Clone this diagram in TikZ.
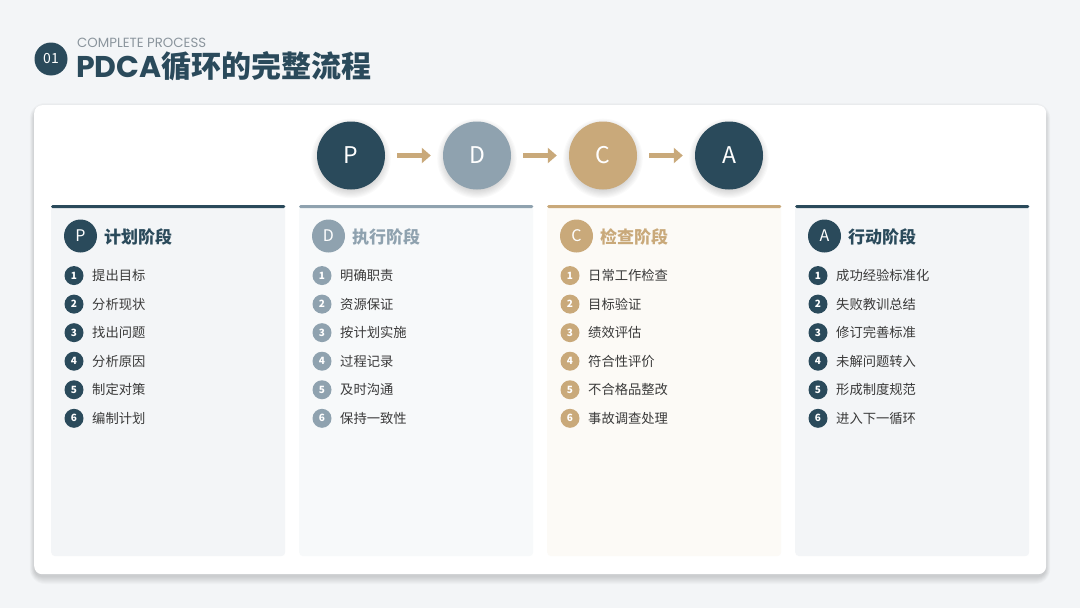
\documentclass[tikz,border=0pt]{standalone}
\usepackage{fontspec}
\setmainfont{Noto Sans CJK SC}
\newfontfamily\lat{Poppins}
\usetikzlibrary{arrows.meta,calc}
\definecolor{navy}{HTML}{2A4A5B}
\definecolor{slate}{HTML}{8FA2AF}
\definecolor{tan}{HTML}{C9A97A}
\definecolor{pagebg}{HTML}{F3F5F7}
\definecolor{cardgray}{HTML}{F3F5F7}
\definecolor{cardblue}{HTML}{F7F9FA}
\definecolor{cardtan}{HTML}{FCFAF6}
\definecolor{itemtext}{HTML}{3A3A3A}
\definecolor{subgray}{HTML}{8B959D}
\tikzset{
  bigcirc/.style={circle, minimum size=68pt, inner sep=0pt, text=white, font=\fontsize{23}{23}\selectfont},
  card/.style={anchor=north west, minimum width=234pt, minimum height=351pt, rounded corners=4pt, inner sep=0pt},
  hcirc/.style={circle, minimum size=33pt, inner sep=0pt, text=white, font=\fontsize{16}{16}\selectfont},
  numc/.style={circle, minimum size=19pt, inner sep=0pt, text=white, font=\bfseries\fontsize{10}{10}\selectfont},
  itemtxt/.style={anchor=west, inner sep=0pt, text=itemtext, font=\fontsize{13.3}{14}\selectfont},
  ctitle/.style={anchor=west, inner sep=0pt, font=\bfseries\fontsize{17}{18}\selectfont},
  shadowlayer/.style={fill=black, opacity=0.018},
  flowarrow/.style={tan, line width=5.5pt, -{Triangle[length=9pt,width=15pt]}, shorten <=12pt, shorten >=12pt}
}
\newcommand\circshadow[1]{%
  \foreach \k in {0,...,8} {\fill[shadowlayer] (#1,-158.5) circle ({31+\k*1.1});}
}
\newcommand\pdcacard[8]{%
  \node[card, fill=#4] (#1card) at (#2,-205) {};
  \fill[#3, rounded corners=1.5pt] (#1card.north west) rectangle ([yshift=-3pt]#1card.north east);
  \node[hcirc, fill=#3] (#1h) at ({#2+29.5},-236) {#6};
  \node[ctitle, text=#5] (#1title) at ({#2+53},-237) {#7};
  \foreach \t [count=\i] in {#8} {
    \node[numc, fill=#3] (#1n\i) at ({#2+23},{-247-28.55*\i}) {\i};
    \node[itemtxt] (#1t\i) at ({#2+41},{-247-28.55*\i}) {\t};
  }
}
\begin{document}
\begin{tikzpicture}[x=1pt,y=1pt]
\useasboundingbox (0,0) rectangle (1080,-608);
\fill[pagebg] (0,0) rectangle (1080,-608);
% header
\node[circle, fill=navy, minimum size=33pt, inner sep=0pt, text=white, font=\fontsize{14}{14}\selectfont] (badge) at (51,-59) {01};
\node[anchor=west, inner sep=0pt, text=subgray, font=\lat\fontsize{13.3}{14}\selectfont] (sub) at (77,-43) {COMPLETE PROCESS};
\node[anchor=west, inner sep=0pt, text=navy, font=\bfseries\fontsize{30}{32}\selectfont] (title) at (76,-66) {{\lat\bfseries PDCA}循环的完整流程};
% panel shadow and panel
\foreach \k in {0,...,7} {
  \fill[shadowlayer, rounded corners={8+\k}] ({34-0.6*\k},{-110+\k}) rectangle ({1046+0.6*\k},{-577-\k});
}
\node[anchor=north west, minimum width=1012pt, minimum height=469pt, fill=white, rounded corners=8pt, inner sep=0pt] (panel) at (34,-105) {};
% flow circles
\circshadow{351}\circshadow{477}\circshadow{603}\circshadow{729}
\node[bigcirc, fill=navy] (P) at (351,-155.5) {P};
\node[bigcirc, fill=slate] (D) at (477,-155.5) {D};
\node[bigcirc, fill=tan] (C) at (603,-155.5) {C};
\node[bigcirc, fill=navy] (A) at (729,-155.5) {A};
\draw[flowarrow] (P) -- (D);
\draw[flowarrow] (D) -- (C);
\draw[flowarrow] (C) -- (A);
% cards
\pdcacard{p}{51}{navy}{cardgray}{navy}{P}{计划阶段}{提出目标,分析现状,找出问题,分析原因,制定对策,编制计划}
\pdcacard{d}{299}{slate}{cardblue}{slate}{D}{执行阶段}{明确职责,资源保证,按计划实施,过程记录,及时沟通,保持一致性}
\pdcacard{c}{547}{tan}{cardtan}{tan}{C}{检查阶段}{日常工作检查,目标验证,绩效评估,符合性评价,不合格品整改,事故调查处理}
\pdcacard{a}{795}{navy}{cardgray}{navy}{A}{行动阶段}{成功经验标准化,失败教训总结,修订完善标准,未解问题转入,形成制度规范,进入下一循环}
\end{tikzpicture}
\end{document}
